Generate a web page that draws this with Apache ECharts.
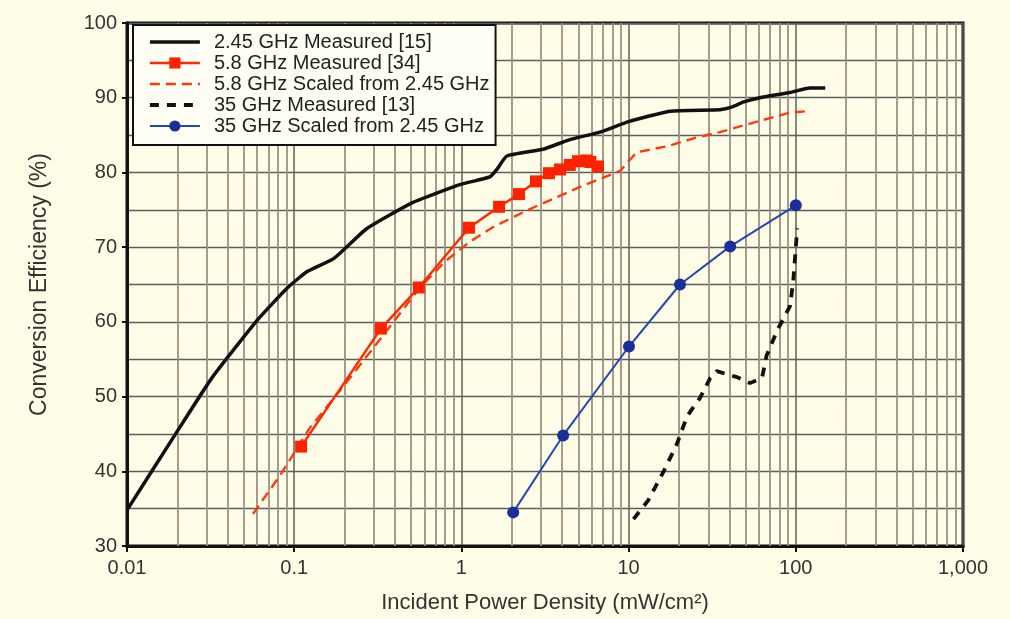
<!DOCTYPE html>
<html>
<head>
<meta charset="utf-8">
<script src="https://cdn.jsdelivr.net/npm/echarts@6/dist/echarts.min.js"></script>
<style>
html, body { margin: 0; padding: 0; background: #fffce8; }
#chart { width: 1010px; height: 619px; }
</style>
</head>
<body>
<div id="chart"></div>
<script>
// values: [power density mW/cm2, efficiency %]
var measured245 = [[0.01,34.8],[0.0194,44.9],[0.0322,52.5],[0.06,60.2],[0.0906,64.5],[0.119,66.7],[0.173,68.5],[0.272,72.5],[0.514,76.0],[0.99,78.4],[1.48,79.4],[1.63,80.4],[1.87,82.2],[3.08,83.1],[4.46,84.4],[6.74,85.4],[10,86.8],[17.7,88.2],[35.2,88.4],[42,88.8],[48.3,89.4],[61,90.0],[92.3,90.7],[121,91.3],[150,91.3]];
var measured58 = [[0.11,43.3],[0.33,59.1],[0.557,64.6],[1.11,72.6],[1.68,75.4],[2.21,77.1],[2.79,78.8],[3.34,79.9],[3.89,80.4],[4.45,81.0],[4.98,81.5],[5.6,81.6],[5.9,81.4],[6.56,80.8]];
var scaled58 = [[0.0567,34.3],[0.082,39.4],[0.124,45.8],[0.188,50.8],[0.33,57.8],[0.56,64.5],[0.80,68.1],[1.12,70.7],[1.55,72.7],[2.57,75.1],[5.3,78.2],[7.43,79.5],[8.89,80.2],[10,81.5],[11.2,82.7],[17,83.5],[25.7,84.7],[35.2,85.4],[58.6,86.8],[92.3,88.0],[116,88.2]];
var measured35 = [[10.7,33.6],[13.1,36.1],[16.3,40.1],[19.4,43.6],[22.4,47.4],[26.7,49.8],[30.8,52.5],[33.7,53.4],[44.5,52.6],[53.2,51.8],[62.8,52.5],[66.9,55.5],[77.6,58.9],[92.3,62.1],[96.5,65.4],[102,72.5]];
var scaled35 = [[2.04,34.5],[4.06,44.8],[10.05,56.7],[20.3,65.0],[40.5,70.1],[100,75.6]];

var seriesNames = ['2.45 GHz Measured [15]', '5.8 GHz Measured [34]', '5.8 GHz Scaled from 2.45 GHz', '35 GHz Measured [13]', '35 GHz Scaled from 2.45 GHz'];
var noMarker = [true, false, true, true, false];
var legendWidths = [3.5, 2.5, 2.6, 3.8, 2.2];
var decades = [0.01, 0.1, 1, 10, 100];

// minor log grid lines at 2..9 of each decade
var minorLines = [];
decades.forEach(function(d){
	for(var k=2; k<10; k++){
		minorLines.push({xAxis: +(d*k).toPrecision(3)});
	}
});

var hColor = '#56605a';
var vMajor = '#5d6259';
var vMinor = '#9d9080';
var font = 'Liberation Sans, Arial, Helvetica, sans-serif';

var legendData = seriesNames.map(function(n, i){
	var item = {name: n, lineStyle: {width: legendWidths[i]}};
	if(noMarker[i]) item.itemStyle = {opacity: 0};
	return item;
});

var chart = echarts.init(document.getElementById('chart'));
chart.setOption({
	backgroundColor: '#fffce8',
	animation: false,
	grid: {
		left: 127, right: 47, top: 23, bottom: 70,
		show: true,
		borderColor: '#111',
		borderWidth: 3,
		backgroundColor: '#fffce8'
	},
	legend: {
		z: 20,
		orient: 'vertical',
		left: 133,
		top: 25,
		padding: [7, 6, 9, 15],
		itemWidth: 50,
		itemHeight: 14,
		itemGap: 1,
		backgroundColor: '#fffef4',
		borderColor: '#111',
		borderWidth: 2,
		textStyle: {fontFamily: font, fontSize: 20, color: '#222', lineHeight: 20, padding: [0, 0, 0, 9]},
		data: legendData
	},
	xAxis: {
		type: 'log',
		logBase: 10,
		min: 0.01,
		max: 1000,
		name: 'Incident Power Density (mW/cm²)',
		nameLocation: 'middle',
		nameGap: 46,
		nameTextStyle: {fontFamily: font, fontSize: 22, color: '#333'},
		axisLine: {lineStyle: {color: '#111', width: 3}},
		axisTick: {show: true, length: 6, lineStyle: {color: '#111', width: 2}},
		axisLabel: {
			fontFamily: font, fontSize: 20, color: '#333', margin: 12,
			formatter: function(v){
				if(v >= 1000) return '1,000';
				return String(+v.toPrecision(3));
			}
		},
		splitLine: {show: true, lineStyle: {color: vMajor, width: 1.5}}
	},
	yAxis: {
		type: 'value',
		min: 30,
		max: 100,
		interval: 10,
		name: 'Conversion Efficiency (%)',
		nameLocation: 'middle',
		nameGap: 76,
		nameTextStyle: {fontFamily: font, fontSize: 23, color: '#333'},
		axisLine: {show: true, lineStyle: {color: '#111', width: 3}},
		axisTick: {show: true, length: 5, lineStyle: {color: '#111', width: 2}},
		axisLabel: {fontFamily: font, fontSize: 20, color: '#333', margin: 10},
		splitLine: {show: true, lineStyle: {color: hColor, width: 1.3}},
		minorTick: {show: false, splitNumber: 2},
		minorSplitLine: {show: true, lineStyle: {color: hColor, width: 1.3}}
	},
	series: [
		{
			type: 'line',
			name: 'minor-grid',
			data: [],
			silent: true,
			z: 1,
			markLine: {
				z: 1,
				silent: true,
				symbol: 'none',
				label: {show: false},
				lineStyle: {color: vMinor, width: 1.8, type: 'solid'},
				data: minorLines
			}
		},
		{
			type: 'line',
			name: seriesNames[0],
			data: measured245,
			symbol: 'none',
			smooth: 0.15,
			z: 5,
			lineStyle: {color: '#111', width: 3.5},
			itemStyle: {color: '#111'}
		},
		{
			type: 'line',
			name: seriesNames[2],
			data: scaled58,
			symbol: 'none',
			z: 4,
			lineStyle: {color: '#ff3a10', width: 2.4, type: [10, 6]},
			itemStyle: {color: '#ff3a10'}
		},
		{
			type: 'line',
			name: seriesNames[1],
			data: measured58,
			symbol: 'rect',
			symbolSize: 12,
			z: 6,
			lineStyle: {color: '#ff2a00', width: 2.5},
			itemStyle: {color: '#ff2200'}
		},
		{
			type: 'line',
			name: seriesNames[3],
			data: measured35,
			symbol: 'none',
			z: 5,
			lineStyle: {color: '#111', width: 3.8, type: [9, 8]},
			itemStyle: {color: '#111'}
		},
		{
			type: 'line',
			name: seriesNames[4],
			data: scaled35,
			symbol: 'circle',
			symbolSize: 12,
			z: 6,
			lineStyle: {color: '#2448b0', width: 2},
			itemStyle: {color: '#1a2f9a'}
		}
	]
});
</script>
</body>
</html>
